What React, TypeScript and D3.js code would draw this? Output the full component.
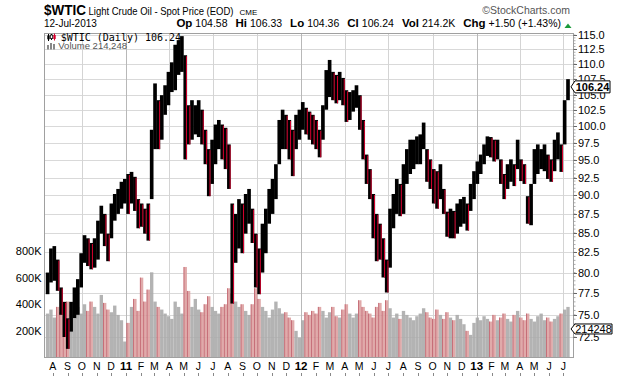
import React from "react";
import * as d3 from "d3";

// ---- data (weekly envelopes) ----
const WEEK_START = new Date(2010, 6, 19);

const weeklyHigh = [
  80.0, 83.0, 83.3, 81.6, 78.2, 76.5, 74.6, 76.5, 78.2, 79.2,
  82.4, 84.7, 84.3, 83.7, 84.3, 86.6, 88.6, 87.5, 84.9, 88.9,
  90.2, 90.9, 91.9, 92.3, 93.0, 93.3, 92.6, 89.5, 88.9, 88.2,
  88.9, 99.5, 106.8, 104.1, 104.9, 106.5, 108.7, 110.3, 113.3, 114.1,
  114.8, 111.5, 103.3, 104.1, 103.3, 104.1, 102.6, 99.5, 96.6, 98.0,
  100.3, 101.0, 100.3, 99.8, 97.3, 88.9, 87.5, 89.5, 88.9, 90.2,
  90.9, 88.2, 84.9, 83.0, 86.2, 88.2, 90.9, 92.3, 94.4, 101.0,
  102.6, 101.8, 101.0, 99.5, 101.8, 102.6, 103.8, 102.9, 102.3, 101.8,
  101.0, 99.5, 103.3, 109.0, 110.7, 108.7, 108.2, 108.7, 107.7, 105.7,
  105.4, 105.7, 106.5, 104.9, 101.0, 95.8, 93.7, 90.2, 87.5, 86.2,
  84.3, 81.6, 88.2, 90.2, 92.3, 91.6, 94.4, 96.6, 98.0, 98.0,
  98.5, 98.8, 100.6, 96.6, 95.1, 93.7, 93.4, 94.4, 90.9, 87.8,
  88.2, 87.9, 88.9, 89.5, 89.8, 88.9, 91.6, 93.4, 94.8, 95.8,
  97.3, 98.5, 98.4, 98.0, 98.0, 95.1, 93.0, 94.4, 95.1, 94.4,
  98.0, 95.1, 94.4, 89.9, 91.6, 96.6, 97.3, 96.6, 97.3, 95.8,
  95.1, 98.0, 99.1, 97.3, 104.1, 107.5,
];

const weeklyLow = [
  77.4, 78.8, 79.0, 77.8, 75.0, 72.5, 71.2, 73.1, 74.6, 75.0,
  78.2, 81.2, 80.8, 80.4, 80.6, 81.6, 84.9, 83.3, 81.4, 84.3,
  86.6, 87.5, 88.2, 88.9, 87.5, 88.9, 87.9, 85.6, 85.8, 84.9,
  84.0, 89.5, 96.6, 96.6, 98.0, 101.8, 103.3, 105.4, 105.7, 108.2,
  108.7, 95.1, 97.3, 98.0, 98.8, 98.4, 97.3, 94.4, 89.9, 91.6,
  94.4, 96.6, 95.1, 93.7, 90.9, 76.3, 81.2, 83.0, 82.4, 84.9,
  86.2, 83.7, 78.2, 77.4, 80.0, 82.4, 86.2, 87.5, 89.5, 94.4,
  96.6, 96.6, 95.1, 92.7, 96.6, 98.0, 99.5, 98.8, 98.0, 97.3,
  96.6, 95.4, 98.0, 102.6, 104.6, 104.1, 103.6, 104.1, 103.3, 100.7,
  101.0, 102.3, 102.9, 99.5, 95.1, 91.6, 89.5, 84.3, 81.4, 81.6,
  79.4, 77.6, 80.6, 85.6, 87.5, 87.2, 87.5, 91.6, 93.0, 93.7,
  94.4, 94.4, 96.6, 91.9, 90.9, 88.9, 88.2, 89.5, 87.5, 84.5,
  84.3, 84.3, 84.9, 85.8, 86.2, 85.3, 87.9, 89.5, 91.6, 93.0,
  94.4, 95.6, 95.4, 94.8, 95.1, 91.6, 89.5, 90.9, 91.9, 91.3,
  93.7, 92.0, 91.6, 86.2, 86.0, 91.6, 93.0, 93.7, 93.4, 92.3,
  91.9, 93.4, 95.1, 93.3, 97.3, 104.1,
];

const weeklyVolumeK = [
  330, 360, 300, 380, 340, 310, 420, 350, 290, 380, 330,
  400, 350, 420, 380, 330, 470, 410, 360, 340, 390,
  320, 280, 120, 260, 380, 440, 350, 600, 420, 510,
  640, 420, 380, 360, 330, 310, 290, 420, 380, 330,
  680, 500, 380, 440, 360, 340, 400, 460, 380, 350,
  330, 380, 400, 520, 480, 420, 380, 400, 350, 320,
  400, 520, 440, 380, 350, 300, 360, 420, 370, 330,
  340, 300, 280, 200, 150, 280, 340, 320, 350, 330,
  380, 350, 300, 340, 380, 310, 300, 360, 400, 330,
  300, 330, 430, 380, 350, 330, 300, 380, 410, 350,
  430, 370, 300, 330, 290, 350, 320, 300, 280, 310,
  330, 370, 340, 300, 290, 360, 320, 290, 340, 300,
  280, 320, 290, 250, 200, 170, 260, 300, 280, 310,
  290, 270, 320, 280, 300, 330, 290, 270, 320, 350,
  300, 280, 330, 290, 270, 310, 330, 280, 300, 270,
  290, 310, 330, 360, 380,
];

const priceTicks = [72.5, 75, 77.5, 80, 82.5, 85, 87.5, 90, 92.5, 95, 97.5, 100, 102.5, 105, 107.5, 110, 112.5, 115];
const volumeTicks = [200000, 400000, 600000, 800000];
const volumeTickLabels = ["200K", "400K", "600K", "800K"];
const monthLetters = ["J", "F", "M", "A", "M", "J", "J", "A", "S", "O", "N", "D"];
const headerStats = [
  ["Op", "104.58"],
  ["Hi", "106.33"],
  ["Lo", "104.36"],
  ["Cl", "106.24"],
  ["Vol", "214.2K"],
  ["Chg", "+1.50 (+1.43%)"],
];
const lastClose = 106.24;
const lastVolume = 214248;

const FONT = "'Liberation Sans', Arial, Helvetica, sans-serif";
const MONO = "'DejaVu Sans Mono', 'Liberation Mono', monospace";

export default function App() {
  const L = 44, R = 574, T = 33, B = 358;
  const x = d3.scaleTime().domain([new Date(2010, 6, 14), new Date(2013, 6, 23)]).range([L, R]);
  const y = d3.scaleLog().domain([72.5, 115]).range([337, 35]);
  const yv = d3.scaleLinear().domain([0, 800000]).range([357.5, 251]);

  const bars = weeklyHigh.map((hi, i) => {
    const start = d3.timeDay.offset(WEEK_START, 7 * i);
    const center = new Date(start.getTime() + 2.5 * 864e5);
    return { cx: x(center), hi, lo: weeklyLow[i], vol: weeklyVolumeK[i] * 1000 };
  });
  const mids = bars.map((b) => Math.sqrt(b.hi * b.lo));
  const isDown = bars.map((b, i) => i > 0 && mids[i] < mids[i - 1]);
  const bw = x(new Date(2011, 0, 8)) - x(new Date(2011, 0, 1));

  const months = d3.timeMonth.range(new Date(2010, 7, 1), new Date(2013, 7, 1));
  const quarters = months.filter((m) => m.getMonth() % 3 === 0);
  const minorTicks = d3.range(145, 231).map((v) => v / 2);

  const tagY = y(lastClose);
  const vTagY = yv(lastVolume);

  return (
    <svg width={620} height={376} style={{ position: "absolute", left: 0, top: 0, background: "#fff" }} fontFamily={FONT}>
      <rect x={0} y={0} width={620} height={376} fill="#fff" />

      {/* gridlines */}
      {priceTicks.map((p) => (
        <line key={"g" + p} x1={L} x2={R} y1={Math.round(y(p)) + 0.5} y2={Math.round(y(p)) + 0.5} stroke="#d9d9d9" strokeWidth={1} />
      ))}
      {quarters.map((q) => (
        <line key={"q" + q.getTime()} x1={Math.round(x(q)) + 0.5} x2={Math.round(x(q)) + 0.5} y1={T} y2={B}
          stroke={q.getMonth() === 0 ? "#b8b8b8" : "#d4d4d4"} strokeWidth={1} />
      ))}

      {/* volume */}
      {bars.map((b, i) => (
        <g key={"v" + i}>
          <rect x={b.cx - bw / 2} y={yv(b.vol)} width={bw} height={yv(0) - yv(b.vol)}
            fill={isDown[i] ? "#dc9e9e" : "#a8a8a8"} fillOpacity={0.88} />
          {isDown[i] && (
            <rect x={b.cx - bw / 2} y={yv(b.vol)} width={0.8} height={yv(0) - yv(b.vol)} fill="#c0606c" />
          )}
        </g>
      ))}

      {/* price bars */}
      {bars.map((b, i) => (
        <rect key={"p" + i} x={b.cx - bw / 2 - 0.15} y={y(b.hi)} width={bw + 0.3} height={Math.max(1, y(b.lo) - y(b.hi))} fill="#000" />
      ))}
      {bars.map((b, i) =>
        isDown[i] ? (
          <rect key={"r" + i} x={b.cx + 0.7} y={y(b.hi) + 1} width={1} height={Math.max(1, y(b.lo) - y(b.hi) - 1)} fill="#d6002e" />
        ) : null
      )}

      {/* frame */}
      <rect x={L + 0.5} y={T + 0.5} width={R - L - 1} height={B - T - 1} fill="none" stroke="#a0a0a0" />

      {/* right price axis */}
      {minorTicks.map((v) => (
        <line key={"m" + v} x1={R - 0.5} x2={R + 1.5} y1={y(v)} y2={y(v)} stroke="#999" strokeWidth={0.8} />
      ))}
      {priceTicks.map((p) => (
        <g key={"t" + p}>
          <line x1={R - 0.5} x2={R + 3} y1={Math.round(y(p)) + 0.5} y2={Math.round(y(p)) + 0.5} stroke="#666" />
          <text x={578} y={y(p) + 4} fontSize={11} fill="#000">{p.toFixed(1)}</text>
        </g>
      ))}

      {/* left volume axis */}
      {volumeTicks.map((v, i) => (
        <text key={"vt" + v} x={41.5} y={yv(v) + 4} fontSize={11} textAnchor="end" fill="#000">{volumeTickLabels[i]}</text>
      ))}

      {/* x axis */}
      {months.map((m) => {
        const mx = x(m);
        const isYear = m.getMonth() === 0;
        return (
          <g key={"x" + m.getTime()}>
            <line x1={Math.round(mx) + 0.5} x2={Math.round(mx) + 0.5} y1={373} y2={376} stroke="#888" />
            <text x={mx} y={370} fontSize={isYear ? 11.5 : 10.5} fontWeight={isYear ? "bold" : "normal"} textAnchor="middle" fill="#000">
              {isYear ? String(m.getFullYear()).slice(2) : monthLetters[m.getMonth()]}
            </text>
          </g>
        );
      })}

      {/* header */}
      <text x={44} y={15} fontSize={14} fontWeight="bold" fill="#000" textLength={42} lengthAdjust="spacingAndGlyphs">$WTIC</text>
      <text x={88.5} y={15} fontSize={11} fill="#000" textLength={145} lengthAdjust="spacingAndGlyphs">Light Crude Oil - Spot Price (EOD)</text>
      <text x={239.5} y={15} fontSize={8} fill="#000">CME</text>
      <text x={570} y={14} fontSize={10.5} textAnchor="end" fill="#555">©StockCharts.com</text>
      <text x={44} y={27} fontSize={10} fill="#000">12-Jul-2013</text>
      <text x={561} y={27} fontSize={10.5} textAnchor="end" fill="#000">
        {headerStats.map(([k, v], i) => (
          <React.Fragment key={k}>
            <tspan fontWeight="bold" fontSize={11.5} dx={i === 0 ? 0 : 8}>{k}</tspan>
            <tspan dx={3}>{v}</tspan>
          </React.Fragment>
        ))}
      </text>
      <path d="M564.5,28 L568,23.5 L571.5,28 Z" fill="#1a9a3a" />

      {/* legend */}
      <line x1={48.5} x2={48.5} y1={34} y2={41} stroke="#000" />
      <rect x={47.3} y={35.5} width={2.4} height={3.8} fill="#000" />
      <line x1={51.5} x2={51.5} y1={34} y2={40} stroke="#000" />
      <rect x={50.3} y={35} width={2.4} height={3.5} fill="#fff" stroke="#000" strokeWidth={0.8} />
      <line x1={54.5} x2={54.5} y1={33.5} y2={40.5} stroke="#d6002e" />
      <rect x={53.3} y={35} width={2.4} height={4} fill="#d6002e" />
      <text x={60.7} y={40.5} fontSize={10} fontFamily={MONO} fill="#000">$WTIC (Daily) 106.24</text>
      <rect x={47} y={45} width={2} height={4.5} fill="#888" />
      <rect x={50} y={43} width={2} height={6.5} fill="#888" />
      <rect x={53} y={44} width={2} height={5.5} fill="#888" />
      <text x={58.3} y={49.3} fontSize={9.5} fill="#555">Volume 214,248</text>

      {/* last price tag */}
      <path d={`M571,${tagY} L575,${tagY - 6} L610,${tagY - 6} L610,${tagY + 6} L575,${tagY + 6} Z`} fill="#fff" stroke="#000" strokeWidth={1} />
      <text x={592.5} y={tagY + 4} fontSize={11} fontWeight="bold" textAnchor="middle" fill="#000">{lastClose.toFixed(2)}</text>

      {/* last volume tag */}
      <path d={`M571,${vTagY} L575,${vTagY - 5} L612,${vTagY - 5} L612,${vTagY + 5} L575,${vTagY + 5} Z`} fill="#fff" stroke="#000" strokeWidth={1} />
      <text x={593.5} y={vTagY + 4} fontSize={11} textAnchor="middle" fill="#000">{String(lastVolume)}</text>
    </svg>
  );
}
